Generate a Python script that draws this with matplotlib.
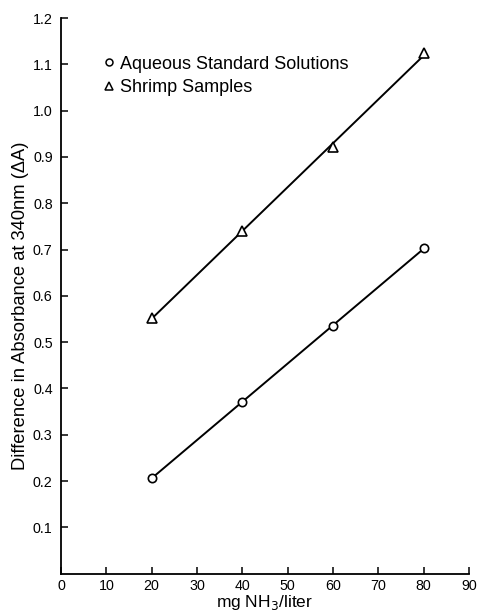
import numpy as np
import matplotlib.pyplot as plt
from matplotlib.lines import Line2D

plt.rcParams['font.family'] = ['Liberation Sans', 'DejaVu Sans']

# mg NH3 per liter
conc = [20, 40, 60, 80]
# difference in absorbance at 340 nm
aqueous = [0.207, 0.370, 0.535, 0.703]
shrimp = [0.553, 0.740, 0.922, 1.124]

xticks = [0, 10, 20, 30, 40, 50, 60, 70, 80, 90]
yticks = [0.1, 0.2, 0.3, 0.4, 0.5, 0.6, 0.7, 0.8, 0.9, 1.0, 1.1, 1.2]

fig = plt.figure(figsize=(4.78, 6.11), dpi=100)
ax = fig.add_axes([0.1276, 0.0612, 0.8536, 0.9093])

# straight calibration lines through each set of points
for ys in (aqueous, shrimp):
    k, b = np.polyfit(conc, ys, 1)
    xs = np.array([conc[0], conc[-1]])
    ax.plot(xs, k * xs + b, color='black', lw=1.4, zorder=2)

ax.plot(conc, aqueous, 'o', ms=6, mfc='white', mec='black', mew=1.2, zorder=3)
ax.plot(conc, shrimp, '^', ms=7.5, mfc='white', mec='black', mew=1.2, zorder=3)

ax.set_xlim(0, 90)
ax.set_ylim(0, 1.2)
ax.set_xticks(xticks)
ax.set_xticklabels([str(x) for x in xticks])
ax.set_yticks(yticks)
ax.set_yticklabels([f"{y:.1f}" for y in yticks])
ax.tick_params(direction='in', length=5, width=1.1, labelsize=10.3, pad=4)
ax.tick_params(axis='y', pad=6)

for side in ['top', 'right']:
    ax.spines[side].set_visible(False)
for side in ['left', 'bottom']:
    ax.spines[side].set_linewidth(1.3)

ax.set_xlabel("mg NH$_3$/liter", fontsize=12.5, labelpad=0)
ax.set_ylabel("Difference in Absorbance at 340nm (\u0394A)", fontsize=13.2)
ax.yaxis.set_label_coords(-0.078, 0.483)

handles = [
    Line2D([], [], ls='none', marker='o', ms=5, mfc='white', mec='black', mew=1.1),
    Line2D([], [], ls='none', marker='^', ms=6, mfc='white', mec='black', mew=1.1),
]
ax.legend(handles, ["Aqueous Standard Solutions", "Shrimp Samples"],
          loc='upper left', bbox_to_anchor=(0.09, 0.945), frameon=False,
          fontsize=13, handlelength=0.5, handletextpad=0.35,
          labelspacing=0.35, borderaxespad=0)

fig.savefig("out.png", dpi=100)
